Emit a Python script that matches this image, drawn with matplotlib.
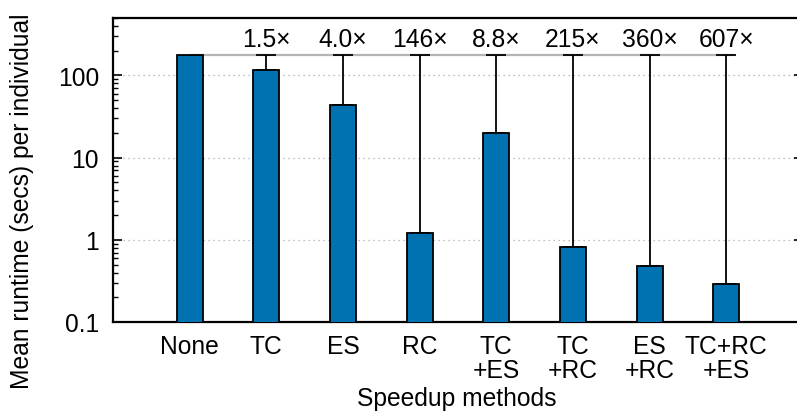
import matplotlib
matplotlib.use("Agg")
import matplotlib.pyplot as plt
import numpy as np
from matplotlib.ticker import LogLocator, NullFormatter, FixedLocator, FixedFormatter

plt.rcParams['font.family'] = ['Liberation Sans', 'DejaVu Sans']

categories = ["None", "TC", "ES", "RC", "TC\n+ES", "TC\n+RC", "ES\n+RC", "TC+RC\n+ES"]
runtimes = [175, 117, 43.5, 1.2, 19.9, 0.81, 0.485, 0.288]
speedups = ["", "1.5\u00d7", "4.0\u00d7", "146\u00d7", "8.8\u00d7", "215\u00d7", "360\u00d7", "607\u00d7"]
ytick_vals = [0.1, 1, 10, 100]
ytick_labels = ["0.1", "1", "10", "100"]

FS = 17.7
W, H = 797, 414
fig = plt.figure(figsize=(W / 100, H / 100), dpi=100)
ax = fig.add_axes([113 / W, 1 - 323 / H, (803 - 113) / W, (323 - 19) / H])

x = np.arange(1, len(categories) + 1)
base = runtimes[0]

ax.set_yscale('log')
ax.set_ylim(0.1, 500)
ax.set_xlim(0, 9)

ax.yaxis.set_major_locator(FixedLocator(ytick_vals))
ax.yaxis.set_major_formatter(FixedFormatter(ytick_labels))
ax.yaxis.set_minor_locator(LogLocator(base=10, subs=np.arange(2, 10)))
ax.yaxis.set_minor_formatter(NullFormatter())

ax.grid(axis='y', which='major', linestyle=(0, (1, 3)), color='#aaaaaa', linewidth=0.9, zorder=0)

# baseline reference line
ax.hlines(base, x[0], x[-1] + 0.105, color='#b5b5b5', linewidth=1.6, zorder=1)

ax.bar(x, runtimes, width=0.34, color='#0072b2',
       edgecolor='black', linewidth=1.3, zorder=3)

lower = np.zeros(len(runtimes))
upper = np.array([base - v for v in runtimes])
ax.errorbar(x[1:], runtimes[1:], yerr=[lower[1:], upper[1:]], fmt='none',
            ecolor='black', elinewidth=1.3, capsize=7, capthick=1.3, zorder=2)

for xi, s in zip(x, speedups):
    if s:
        ax.text(xi, 280, s, ha='center', va='center', fontsize=FS)

ax.set_xticks(x)
ax.set_xticklabels(categories, fontsize=FS, linespacing=1.0)
ax.tick_params(axis='x', length=0, pad=9)
ax.tick_params(axis='y', which='major', direction='in', length=6.5, width=1.2,
               left=True, right=True, labelsize=FS, pad=10)
ax.tick_params(axis='y', which='minor', direction='in', length=3.5, width=1.0,
               left=True, right=True)

for sp in ax.spines.values():
    sp.set_linewidth(1.6)

fig.text(457 / W, 1 - 399 / H, "Speedup methods", fontsize=FS, ha='center', va='center')
fig.text(22 / W, 1 - 201 / H, "Mean runtime (secs) per individual", fontsize=FS,
         ha='center', va='center', rotation=90)

fig.savefig("out.png", dpi=100)
